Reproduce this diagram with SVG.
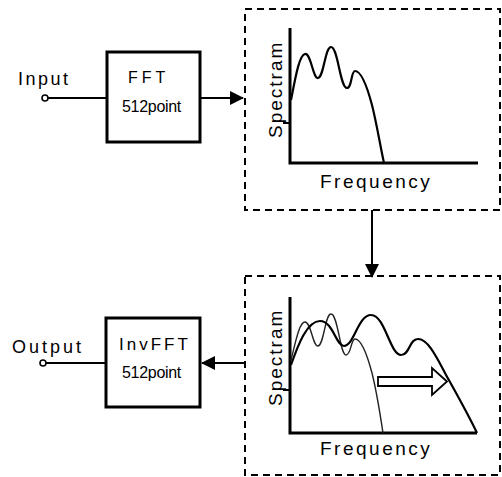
<svg xmlns="http://www.w3.org/2000/svg" width="502" height="477" viewBox="0 0 502 477">
  <style>
    .lbl { font-family: "Liberation Sans", Arial, sans-serif; fill: #000; }
    .blk { fill: #fff; stroke: #000; stroke-width: 3; }
    .panel { fill: none; stroke: #000; stroke-width: 2; stroke-dasharray: 7 5; }
    .wire { fill: none; stroke: #000; stroke-width: 2; }
    .axis { fill: none; stroke: #000; stroke-width: 3; }
    .curve { fill: none; stroke: #000; stroke-width: 2.2; stroke-linejoin: round; }
    .thin { fill: none; stroke: #222; stroke-width: 1.4; stroke-linejoin: round; }
    .term { fill: #fff; stroke: #000; stroke-width: 1.6; }
  </style>
  <defs>
    <marker id="head" viewBox="0 0 14 14" refX="13" refY="7" markerWidth="14" markerHeight="14" markerUnits="userSpaceOnUse" orient="auto">
      <path d="M0,0 L14,7 L0,14 Z" fill="#000"/>
    </marker>
  </defs>

  <!-- connectors -->
  <g id="connectors">
    <line class="wire" x1="48" y1="98" x2="107" y2="98"/>
    <line class="wire" x1="200" y1="98" x2="243" y2="98" marker-end="url(#head)"/>
    <line class="wire" x1="372" y1="210" x2="372" y2="277" marker-end="url(#head)"/>
    <line class="wire" x1="245" y1="363" x2="202" y2="363" marker-end="url(#head)"/>
    <line class="wire" x1="46" y1="363" x2="106" y2="363"/>
  </g>

  <!-- input terminal -->
  <g id="input">
    <text class="lbl" x="18" y="85" font-size="18" letter-spacing="2.5">Input</text>
    <circle class="term" cx="45" cy="98" r="3"/>
  </g>

  <!-- forward transform block -->
  <g id="fft">
    <rect class="blk" x="107" y="52" width="93" height="90"/>
    <text class="lbl" x="128" y="83" font-size="16" letter-spacing="4">FFT</text>
    <text class="lbl" x="122" y="112" font-size="16" letter-spacing="-0.3">512point</text>
  </g>

  <!-- spectrum panel before shifting -->
  <g id="spectrum-in">
    <rect class="panel" x="245" y="9" width="255" height="201"/>
    <polyline class="axis" points="290,28 290,163 478,163"/>
    <line class="wire" x1="283" y1="123" x2="290" y2="123"/>
    <text class="lbl" transform="translate(282,138) rotate(-90)" font-size="19" letter-spacing="2">Spectram</text>
    <text class="lbl" x="320" y="188" font-size="19" letter-spacing="2.5">Frequency</text>
    <path class="curve" d="M291,100 C295,80 299,55 305,54 C311,53 313,79 318,78 C324,77 325,47 331,47 C338,47 340,88 347,88 C352,88 351,71 355,71 C362,71 368,90 372,105 C377,125 380,145 384,163"/>
  </g>

  <!-- spectrum panel after shifting -->
  <g id="spectrum-out">
    <rect class="panel" x="245" y="276" width="255" height="199"/>
    <polyline class="axis" points="290,297 290,433 477,433"/>
    <line class="wire" x1="283" y1="390" x2="290" y2="390"/>
    <text class="lbl" transform="translate(282,406) rotate(-90)" font-size="19" letter-spacing="2">Spectram</text>
    <text class="lbl" x="320" y="455" font-size="19" letter-spacing="2.5">Frequency</text>
    <path class="thin" d="M291,360 C295,345 299,322 305,322 C311,322 313,347 318,346 C324,345 325,314 331,314 C338,314 340,355 346,355 C351,355 351,339 355,339 C362,339 368,358 372,373 C377,393 380,413 383,433"/>
    <path class="curve" d="M291,365 C298,345 307,321 320,321 C333,321 336,346 344,346 C354,346 358,315 371,315 C385,315 390,355 401,355 C410,355 409,339 418,339 C430,339 440,365 450,382 C460,400 470,418 477,433"/>
    <path d="M378,377 L432,377 L432,368 L447,381.5 L432,395 L432,386 L378,386 Z" fill="#fff" stroke="#000" stroke-width="1.8" stroke-linejoin="miter"/>
  </g>

  <!-- inverse transform block -->
  <g id="invfft">
    <rect class="blk" x="106" y="318" width="94" height="89"/>
    <text class="lbl" x="119" y="350" font-size="17" letter-spacing="3">InvFFT</text>
    <text class="lbl" x="122" y="378" font-size="16" letter-spacing="-0.3">512point</text>
  </g>

  <!-- output terminal -->
  <g id="output">
    <text class="lbl" x="12" y="353" font-size="18" letter-spacing="3">Output</text>
    <circle class="term" cx="43" cy="363" r="3"/>
  </g>
</svg>
